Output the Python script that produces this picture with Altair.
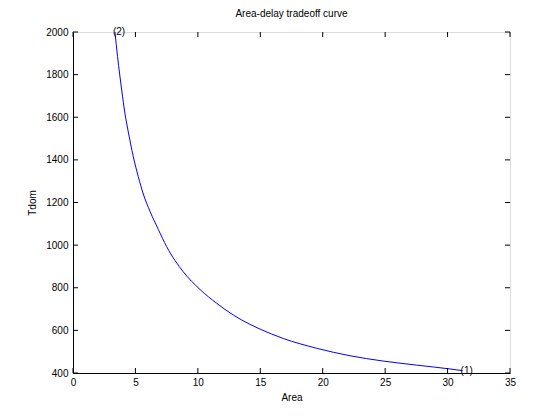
import altair as alt
import pandas as pd

# Curve
area = [3.36, 3.57, 3.90, 4.16, 4.40, 4.83, 5.23, 5.63, 6.17, 6.83, 7.50,
        8.83, 10.17, 11.51, 12.84, 14.18, 14.98, 16.84, 19.52, 22.19, 24.85,
        27.53, 30.19, 31.20]
tdom = [2000, 1884, 1728, 1618, 1540, 1415, 1321, 1240, 1158, 1074, 993,
        875, 792, 727, 672, 628, 606, 562, 516, 481, 456,
        437, 419, 411]

point_labels = ["(2)", "(1)"]
label_area = [area[0], area[-1]]
label_tdom = [tdom[0], tdom[-1]]

x_ticks = [0, 5, 10, 15, 20, 25, 30, 35]
y_ticks = [400, 600, 800, 1000, 1200, 1400, 1600, 1800, 2000]

W, H = 437, 341
FONT = "Liberation Sans"

curve = pd.DataFrame({"Area": area, "Tdom": tdom, "i": range(len(area))})
labels = pd.DataFrame({"Area": label_area, "Tdom": label_tdom, "t": point_labels})
xt = pd.DataFrame({"v": x_ticks})
yt = pd.DataFrame({"v": y_ticks})

xs = alt.Scale(domain=[0, 35], nice=False, zero=False)
ys = alt.Scale(domain=[400, 2000], nice=False, zero=False)

xaxis = alt.Axis(values=x_ticks, ticks=False, grid=False, labelPadding=4,
                 labelFontSize=10, labelFont=FONT, labelColor="black",
                 titleFont=FONT, titleFontSize=10, titleFontWeight="normal",
                 titleColor="black", titlePadding=5, domainColor="black",
                 labelFlush=False, format="d")
yaxis = alt.Axis(values=y_ticks, ticks=False, grid=False, labelPadding=5,
                 labelFontSize=10, labelFont=FONT, labelColor="black",
                 titleFont=FONT, titleFontSize=10, titleFontWeight="normal",
                 titleColor="black", titlePadding=8, domainColor="black",
                 labelFlush=False, format="d")

line = alt.Chart(curve).mark_line(color="#0000ff", strokeWidth=1,
                                  interpolate="monotone").encode(
    x=alt.X("Area:Q", scale=xs, axis=xaxis, title="Area"),
    y=alt.Y("Tdom:Q", scale=ys, axis=yaxis, title="Tdom"),
    order="i:Q",
)

text = alt.Chart(labels).mark_text(align="left", baseline="middle", dx=-2,
                                   font=FONT, fontSize=10, color="black").encode(
    x=alt.X("Area:Q", scale=xs), y=alt.Y("Tdom:Q", scale=ys), text="t:N"
)

xb = alt.Chart(xt).mark_rule(color="black").encode(
    x=alt.X("v:Q", scale=xs), y=alt.value(H), y2=alt.value(H - 5))
xtop = alt.Chart(xt).mark_rule(color="black").encode(
    x=alt.X("v:Q", scale=xs), y=alt.value(0), y2=alt.value(5))
yl = alt.Chart(yt).mark_rule(color="black").encode(
    y=alt.Y("v:Q", scale=ys), x=alt.value(0), x2=alt.value(5))
yr = alt.Chart(yt).mark_rule(color="black").encode(
    y=alt.Y("v:Q", scale=ys), x=alt.value(W), x2=alt.value(W - 5))

chart = alt.layer(line, text, xb, xtop, yl, yr).properties(
    width=W, height=H,
    title=alt.TitleParams("Area-delay tradeoff curve", font=FONT, fontSize=10,
                          fontWeight="normal", color="black", offset=8,
                          anchor="middle"),
    autosize=alt.AutoSizeParams(type="none"),
    padding={"left": 65, "top": 24, "right": 40, "bottom": 40},
).configure_view(stroke="black", strokeWidth=1).configure(background="white")

chart.save("out.html", embed_options={"renderer": "svg", "actions": False})
